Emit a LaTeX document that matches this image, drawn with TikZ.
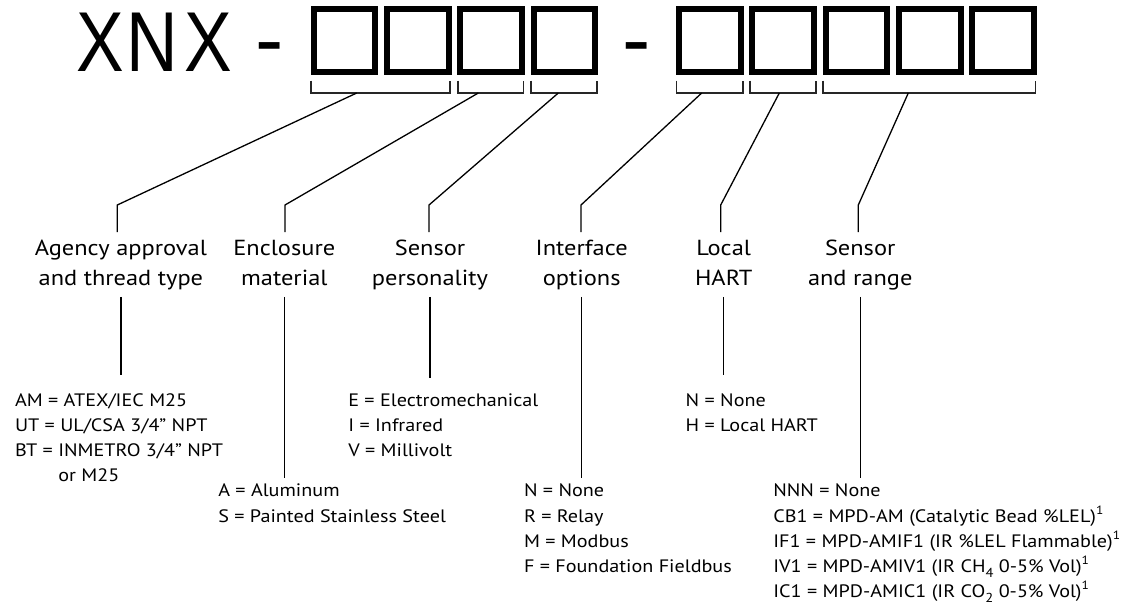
\documentclass[tikz,border=0pt]{standalone}
\usepackage{fontspec}
\setmainfont[FakeStretch=1.12]{PT Sans}
\newfontfamily\titlefont[FakeStretch=0.84]{Liberation Sans}
\newfontfamily\dashfont{Liberation Sans}
\usetikzlibrary{calc}
\tikzset{
  digitbox/.style={draw, line width=6pt, minimum width=61.5pt, minimum height=63pt, inner sep=0pt, outer sep=0pt},
  bracket/.style={line width=1.5pt, draw=black!85, line join=miter},
  conn/.style={line width=1.3pt, draw=black},
  head/.style={anchor=base, inner sep=0pt, outer sep=3pt, font=\fontsize{21.8}{29.3}\selectfont},
  opts/.style={anchor=base west, inner sep=0pt, outer sep=0pt, font=\fontsize{18}{25.3}\selectfont},
  titletext/.style={anchor=base west, inner sep=0pt, font=\fontsize{85}{85}\titlefont},
  dashtext/.style={anchor=base, inner sep=0pt, font=\fontsize{85}{85}\dashfont},
}
\newcommand\hd[1]{\begin{tabular}[t]{@{}c@{}}#1\end{tabular}}
\newcommand\ol[1]{\begin{tabular}[t]{@{}l@{}}#1\end{tabular}}
\newcommand\sbs[1]{\raisebox{-4.5pt}{\fontsize{13}{13}\selectfont #1}}
\newcommand\sps[1]{\raisebox{8pt}{\fontsize{12}{12}\selectfont #1}}
\begin{document}
\begin{tikzpicture}[x=1pt,y=-1pt]
\useasboundingbox (0,0) rectangle (1123,605);
% title
\node[titletext] (xnx) at (76.4,71) {X\kern2.2pt N\kern6.5pt X};
\node[dashtext] (d1) at (269.8,68.3) {-};
\node[dashtext] (d2) at (636.7,68.3) {-};
% boxes
\foreach \n/\l in {1/310.7,2/384,3/457.3,4/530.7,5/676,6/749.3,7/822.7,8/896,9/969.3}
  \node[digitbox] (b\n) at (\l+33.75,40.5) {};
% brackets
\foreach \l/\r in {311.2/450.2, 457.8/523.3, 531.2/597.2, 676.5/742.8, 749.8/816.2, 823.2/1035.3}
  \draw[bracket] (\l,80.7) -- (\l,93) -- (\r,93) -- (\r,80.7);
\coordinate (a1) at (356.7,93);
\coordinate (a2) at (478.3,93);
\coordinate (a3) at (558.3,93);
\coordinate (a4) at (701.7,93);
\coordinate (a5) at (779.3,93);
\coordinate (a6) at (908.3,93);
\coordinate (k1) at (117.3,205);
\coordinate (k2) at (285,205);
\coordinate (k3) at (429,205);
\coordinate (k4) at (581,205);
\coordinate (k5) at (720.7,205);
\coordinate (k6) at (858.3,205);
% headers
\node[head] (h1) at (120.9,255.7) {\hd{Agency approval\\and thread type}};
\node[head] (h2) at (284.3,255.7) {\hd{Enclosure\\material}};
\node[head] (h3) at (430,255.7) {\hd{Sensor\\personality}};
\node[head] (h4) at (581.7,255.7) {\hd{Interface\\options}};
\node[head] (h5) at (723.7,255.7) {\hd{Local\\HART}};
\node[head] (h6) at (860.2,255.7) {\hd{Sensor\\and range}};
% option lists
\node[opts] (o1) at (15,406) {\ol{AM = ATEX/IEC M25\\UT = UL/CSA 3/4” NPT\\BT = INMETRO 3/4” NPT\\\phantom{BT = }or M25}};
\node[opts] (o2) at (218.3,496.7) {\ol{A = Aluminum\\S = Painted Stainless Steel}};
\node[opts] (o3) at (348.3,406) {\ol{E = Electromechanical\\I = Infrared\\V = Millivolt}};
\node[opts] (o4) at (524,496.7) {\ol{N = None\\R = Relay\\M = Modbus\\F = Foundation Fieldbus}};
\node[opts] (o5) at (685.7,406) {\ol{N = None\\H = Local HART}};
\node[opts] (o6) at (773.3,496.7) {\ol{NNN = None\\CB1 = MPD-AM (Catalytic Bead \%LEL)\sps{1}\\IF1 = MPD-AMIF1 (IR \%LEL Flammable)\sps{1}\\IV1 = MPD-AMIV1 (IR CH\sbs{4} 0-5\% Vol)\sps{1}\\IC1 = MPD-AMIC1 (IR CO\sbs{2} 0-5\% Vol)\sps{1}}};
% connectors
\foreach \i in {1,...,6}
  \draw[conn] (a\i) -- (k\i) -- (k\i |- h\i.north);
\draw[conn, shorten >=13.3pt] (h1.south) -- (h1.south |- o1.north);
\draw[conn, shorten >=0.7pt] (h2.south) -- (h2.south |- o2.north);
\draw[conn, shorten >=10pt] (h3.south) -- (h3.south |- o3.north);
\draw[conn, shorten >=0.7pt] (h4.south) -- (h4.south |- o4.north);
\draw[conn, shorten >=13.3pt] (h5.south) -- (h5.south |- o5.north);
\draw[conn, shorten >=0.7pt] (h6.south) -- (h6.south |- o6.north);
\end{tikzpicture}
\end{document}
